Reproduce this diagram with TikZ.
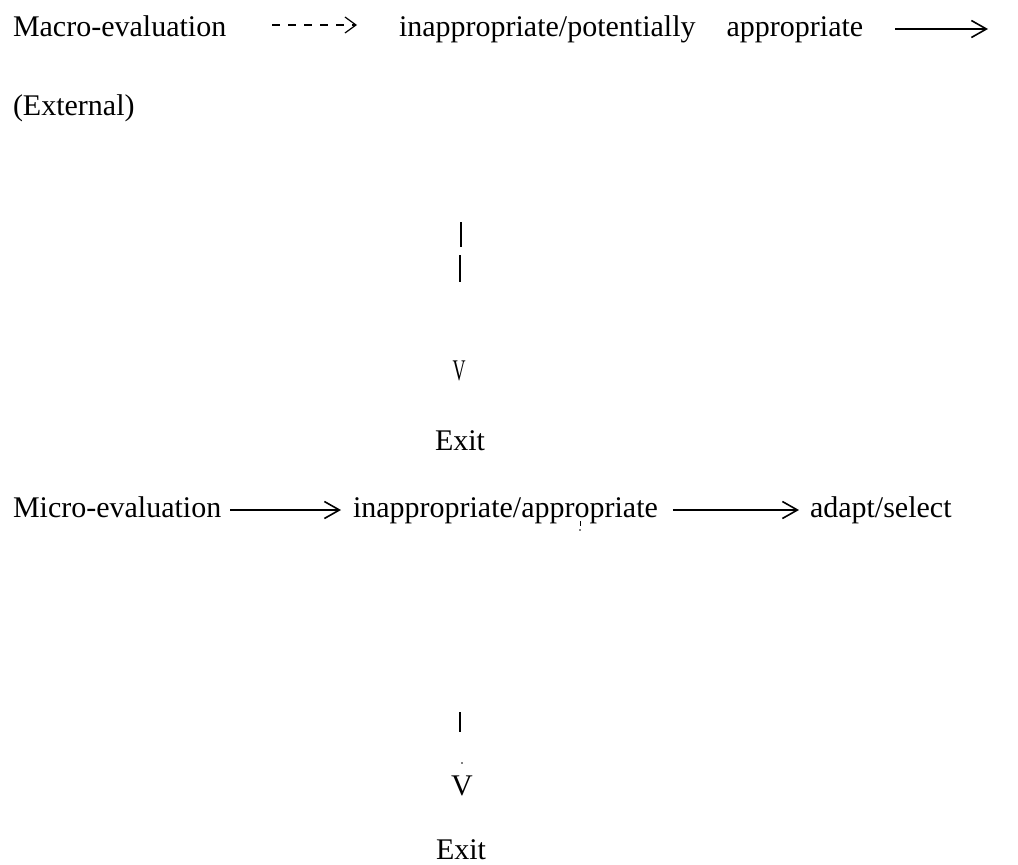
\documentclass[tikz,border=0pt]{standalone}
\usepackage{fontspec}
\setmainfont{Liberation Serif}
\usetikzlibrary{arrows.meta}
\begin{document}
\begin{tikzpicture}[x=1pt,y=-1pt,
  txt/.style={inner sep=0pt,outer sep=0pt,font=\fontsize{30}{36}\selectfont,anchor=base west},
  ctxt/.style={inner sep=0pt,outer sep=0pt,font=\fontsize{30}{36}\selectfont,anchor=base},
  conn/.style={line width=1.7pt,-{Straight Barb[length=15pt,width=17pt,line width=1.6pt]}},
  dconn/.style={line width=2.2pt,dash pattern=on 8pt off 8pt,-{Straight Barb[length=11pt,width=16pt,line width=1.2pt]}},
  bar/.style={line width=1.5pt}]
\useasboundingbox (0,0) rectangle (1018,865);
% line 1
\node[txt] (macro) at (13,36) {Macro-evaluation};
\node[txt] (inap1) at (399,36) {inappropriate/potentially\hspace{31pt}appropriate};
\coordinate (e1) at (988,29);
\draw[dconn] ([shift={(46,-11)}]macro.base east) -- ([shift={(-42,-11)}]inap1.base west);
\draw[conn] ([shift={(32,-7)}]inap1.base east) -- (e1);
\node[txt] (ext) at (13,115) {(External)};
% first vertical
\coordinate (a1) at (461,222);
\coordinate (a2) at (461,247);
\coordinate (a3) at (460,255);
\coordinate (a4) at (460,282);
\draw[bar] (a1) -- (a2);
\draw[bar] (a3) -- (a4);
\node[ctxt] (v1) at (459,380) {\scalebox{0.6}[1]{V}};
\node[ctxt] (exit1) at (460,450) {Exit};
% line 3
\node[txt] (micro) at (13,517) {Micro-evaluation};
\node[txt] (inap2) at (353,517) {inappropriate/appropriate};
\node[txt] (adapt) at (810,517) {adapt/select};
\draw[conn] ([shift={(9,-7)}]micro.base east) -- ([shift={(-12,-7)}]inap2.base west);
\draw[conn] ([shift={(15,-7)}]inap2.base east) -- ([shift={(-11,-7)}]adapt.base west);
% speck
\draw[line width=1pt] (580,521) -- (580,526);
\fill (580,530) circle (0.8);
% second vertical
\coordinate (b1) at (460,712);
\coordinate (b2) at (460,732);
\draw[bar] (b1) -- (b2);
\fill (462,763) circle (0.9);
\node[ctxt] (v2) at (462,795) {V};
\node[ctxt] (exit2) at (461,859) {Exit};
\end{tikzpicture}
\end{document}
